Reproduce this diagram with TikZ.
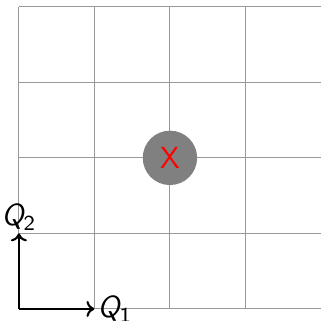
\documentclass[tikz,border=0pt]{standalone}
\usepackage{xcolor}
\usetikzlibrary{positioning, arrows.meta}

\begin{document}
\begin{tikzpicture}[every node/.style={font=\sffamily\fontsize{11.5}{13}\selectfont},
  gridline/.style={gray!80, line width=0.4pt},
  axis/.style={-{To[length=3pt,width=6pt]}, black, line width=0.8pt}]
\useasboundingbox (-0.25,-0.15) rectangle (4,4.09);
% grid
\foreach \i in {0,...,4}
  \draw[gridline] (0,\i) -- (4,\i);
\foreach \i in {0,...,3}
  \draw[gridline] (\i,0) -- (\i,4);

\node[circle, fill=gray, minimum size=0.72cm, inner sep=0pt, text=red] (obs) at (2,2) {X};

% axes
\coordinate (o) at (0,0);
\coordinate (e1) at (1,0);
\coordinate (e2) at (0,1);
\draw[axis] (o) -- (e1);
\draw[axis] (o) -- (e2);
\node[right=0pt of e1, inner sep=1pt] (q1) {\itshape Q\textsubscript{\upshape 1}};
\node[above=0pt of e2, inner sep=1pt] (q2) {\itshape Q\textsubscript{\upshape 2}};
\end{tikzpicture}
\end{document}
